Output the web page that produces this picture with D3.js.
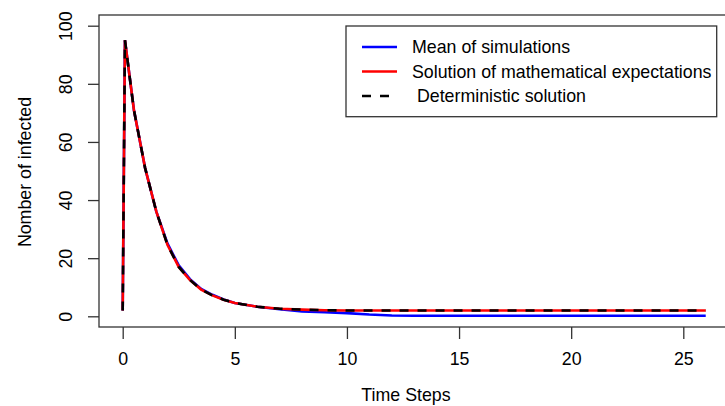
<!DOCTYPE html>
<html>
<head>
<meta charset="utf-8">
<script src="https://cdn.jsdelivr.net/npm/d3@7"></script>
<style>
  body { margin: 0; background: #fff; }
  svg { font-family: "Liberation Sans", Arial, sans-serif; }
</style>
</head>
<body>
<svg id="svg" width="725" height="406"></svg>
<script>
// time points
const times = [0, 0.1, 0.5, 1, 1.5, 2, 2.5, 3, 3.5, 4, 4.5, 5, 6, 7, 8, 9, 10, 11, 12, 13, 14, 15, 16, 17, 18, 19, 20, 21, 22, 23, 24, 25, 26];
// mean of simulations
const meanSim = [2, 95, 71, 51, 36, 25, 17.5, 12.8, 9.4, 7.4, 5.8, 4.6, 3.3, 2.4, 1.7, 1.4, 1.1, 0.6, 0.3, 0.2, 0.2, 0.2, 0.2, 0.2, 0.2, 0.2, 0.2, 0.2, 0.2, 0.2, 0.2, 0.2, 0.2];
// solution of mathematical expectations
const expectSol = [2, 95, 71, 51, 36, 24.5, 17, 12.5, 9.2, 7.2, 5.7, 4.6, 3.3, 2.6, 2.3, 2.1, 2.0, 2.0, 2.0, 2.0, 2.0, 2.0, 2.0, 2.0, 2.0, 2.0, 2.0, 2.0, 2.0, 2.0, 2.0, 2.0, 2.0];
// deterministic solution
const detSol = [2, 95, 71, 51, 36, 24.5, 17, 12.5, 9.2, 7.2, 5.7, 4.6, 3.3, 2.6, 2.3, 2.1, 2.0, 2.0, 2.0, 2.0, 2.0, 2.0, 2.0, 2.0, 2.0, 2.0, 2.0, 2.0, 2.0, 2.0, 2.0, 2.0, 2.0];

const xTicks = [0, 5, 10, 15, 20, 25];
const yTicks = [0, 20, 40, 60, 80, 100];
const legendLabels = ["Mean of simulations", "Solution of mathematical expectations", " Deterministic solution"];

const svg = d3.select("#svg");
const fs = 17.8;

var x = d3.scaleLinear().domain([0, 25]).range([122.7, 683.3]);
var y = d3.scaleLinear().domain([0, 100]).range([316.3, 25.7]);

// plot box (runs past the right edge, as in the picture)
svg.append("rect")
  .attr("x", 99).attr("y", 15)
  .attr("width", 700).attr("height", 312)
  .attr("fill", "none")
  .attr("stroke", "#333")
  .attr("stroke-width", 1.3);

// x axis
const xAxis = svg.append("g")
  .attr("transform", "translate(0,327)")
  .call(d3.axisBottom(x).tickValues(xTicks).tickSize(12).tickSizeOuter(0).tickPadding(13));
xAxis.select(".domain").remove();
xAxis.selectAll("line").attr("stroke", "#333").attr("stroke-width", 1.3);
xAxis.selectAll("text").style("font-size", fs + "px").attr("fill", "#000")
  .style("font-family", "Liberation Sans, Arial, sans-serif");

// y axis, labels rotated like R
const yAxis = svg.append("g")
  .attr("transform", "translate(99,0)")
  .call(d3.axisLeft(y).tickValues(yTicks).tickSize(11).tickSizeOuter(0));
yAxis.select(".domain").remove();
yAxis.selectAll("line").attr("stroke", "#333").attr("stroke-width", 1.3);
yAxis.selectAll("text")
  .attr("x", null).attr("dy", null)
  .attr("text-anchor", "middle")
  .attr("transform", "translate(-27,0) rotate(-90)")
  .style("font-size", fs + "px").attr("fill", "#000")
  .style("font-family", "Liberation Sans, Arial, sans-serif");

// axis titles
svg.append("text")
  .attr("x", 406).attr("y", 401)
  .attr("text-anchor", "middle")
  .style("font-size", fs + "px")
  .text("Time Steps");

svg.append("text")
  .attr("transform", "translate(31,172) rotate(-90)")
  .attr("text-anchor", "middle")
  .style("font-size", fs + "px")
  .text("Nomber of infected");

// lines
const line = d3.line().x((d, i) => x(times[i])).y(d => y(d));

svg.append("path").datum(meanSim)
  .attr("d", line).attr("fill", "none")
  .attr("stroke", "#0000ff").attr("stroke-width", 2.6);

svg.append("path").datum(expectSol)
  .attr("d", line).attr("fill", "none")
  .attr("stroke", "#ff0000").attr("stroke-width", 2.6);

svg.append("path").datum(detSol)
  .attr("d", line).attr("fill", "none")
  .attr("stroke", "#000").attr("stroke-width", 2.6)
  .attr("stroke-dasharray", "9,9");

// legend
const legend = svg.append("g").attr("class", "legend");
legend.append("rect")
  .attr("x", 346).attr("y", 26)
  .attr("width", 370.7).attr("height", 90.7)
  .attr("fill", "#fff")
  .attr("stroke", "#333")
  .attr("stroke-width", 1.3);

const legColors = ["#0000ff", "#ff0000", "#000"];
const legDash = [null, null, "9,9"];
legendLabels.forEach((lab, i) => {
  const ly = 47 + i * 24.5;
  legend.append("line")
    .attr("x1", 362).attr("x2", 397)
    .attr("y1", ly).attr("y2", ly)
    .attr("stroke", legColors[i]).attr("stroke-width", 2.6)
    .attr("stroke-dasharray", legDash[i]);
  legend.append("text")
    .attr("x", 412).attr("y", ly)
    .attr("dy", "0.35em")
    .style("font-size", fs + "px")
    .attr("xml:space", "preserve")
    .text(lab);
});
</script>
</body>
</html>
